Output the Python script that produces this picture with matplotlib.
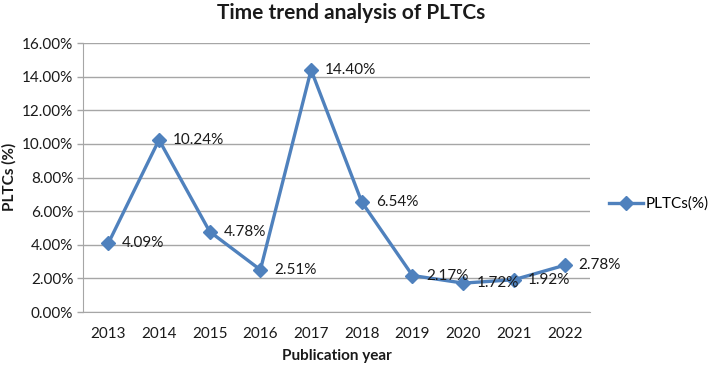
import matplotlib.pyplot as plt
from matplotlib.ticker import FuncFormatter

plt.rcParams['font.family'] = ['Lato', 'DejaVu Sans']

years = ['2013', '2014', '2015', '2016', '2017', '2018', '2019', '2020', '2021', '2022']
pltc_pct = [4.09, 10.24, 4.78, 2.51, 14.40, 6.54, 2.17, 1.72, 1.92, 2.78]
yticks = [0, 2, 4, 6, 8, 10, 12, 14, 16]

blue = '#4F81BD'
grid = '#A6A6A6'
txt = '#1a1a1a'

fig = plt.figure(figsize=(7.08, 3.66), dpi=100)
ax = fig.add_axes([0.1172, 0.1475, 0.716, 0.735])

x = list(range(len(years)))
line, = ax.plot(x, pltc_pct, color=blue, lw=2.4, marker='D', ms=7,
                label='PLTCs(%)', solid_joinstyle='miter')

for xi, v in zip(x, pltc_pct):
    ax.annotate(f'{v:.2f}%', (xi, v), xytext=(10, 0), textcoords='offset points',
                ha='left', va='center', fontsize=11, color=txt)

ax.set_xlim(-0.5, len(years) - 0.5)
ax.set_ylim(0, 16)
ax.set_xticks(x)
ax.set_xticklabels(years)
ax.set_yticks(yticks)
ax.yaxis.set_major_formatter(FuncFormatter(lambda v, p: f'{v:.2f}%'))
ax.tick_params(axis='x', length=0, labelsize=11, pad=11, colors=txt)
ax.tick_params(axis='y', length=4, width=1, labelsize=11, pad=3, colors=txt)
ax.tick_params(axis='y', color=grid)
ax.grid(axis='y', color=grid, lw=1)
ax.set_axisbelow(True)
for s in ['top', 'right']:
    ax.spines[s].set_visible(False)
ax.spines['left'].set_color(grid)
ax.spines['bottom'].set_color(grid)

fig.text(351 / 708, 1 - 13 / 366, 'Time trend analysis of PLTCs', fontsize=15,
         fontweight='bold', ha='center', va='center', color=txt)
fig.text(337 / 708, 1 - 356 / 366, 'Publication year', fontsize=11,
         fontweight='bold', ha='center', va='center', color=txt)
fig.text(9 / 708, 1 - 177 / 366, 'PLTCs (%)', fontsize=11, fontweight='bold',
         ha='center', va='center', rotation=90, color=txt)

fig.legend(handles=[line], loc='center left', bbox_to_anchor=(606 / 708, 1 - 204 / 366),
           frameon=False, fontsize=11, handlelength=2.2, handletextpad=0.2,
           borderaxespad=0, borderpad=0.2)

fig.savefig('out.png', dpi=100)
